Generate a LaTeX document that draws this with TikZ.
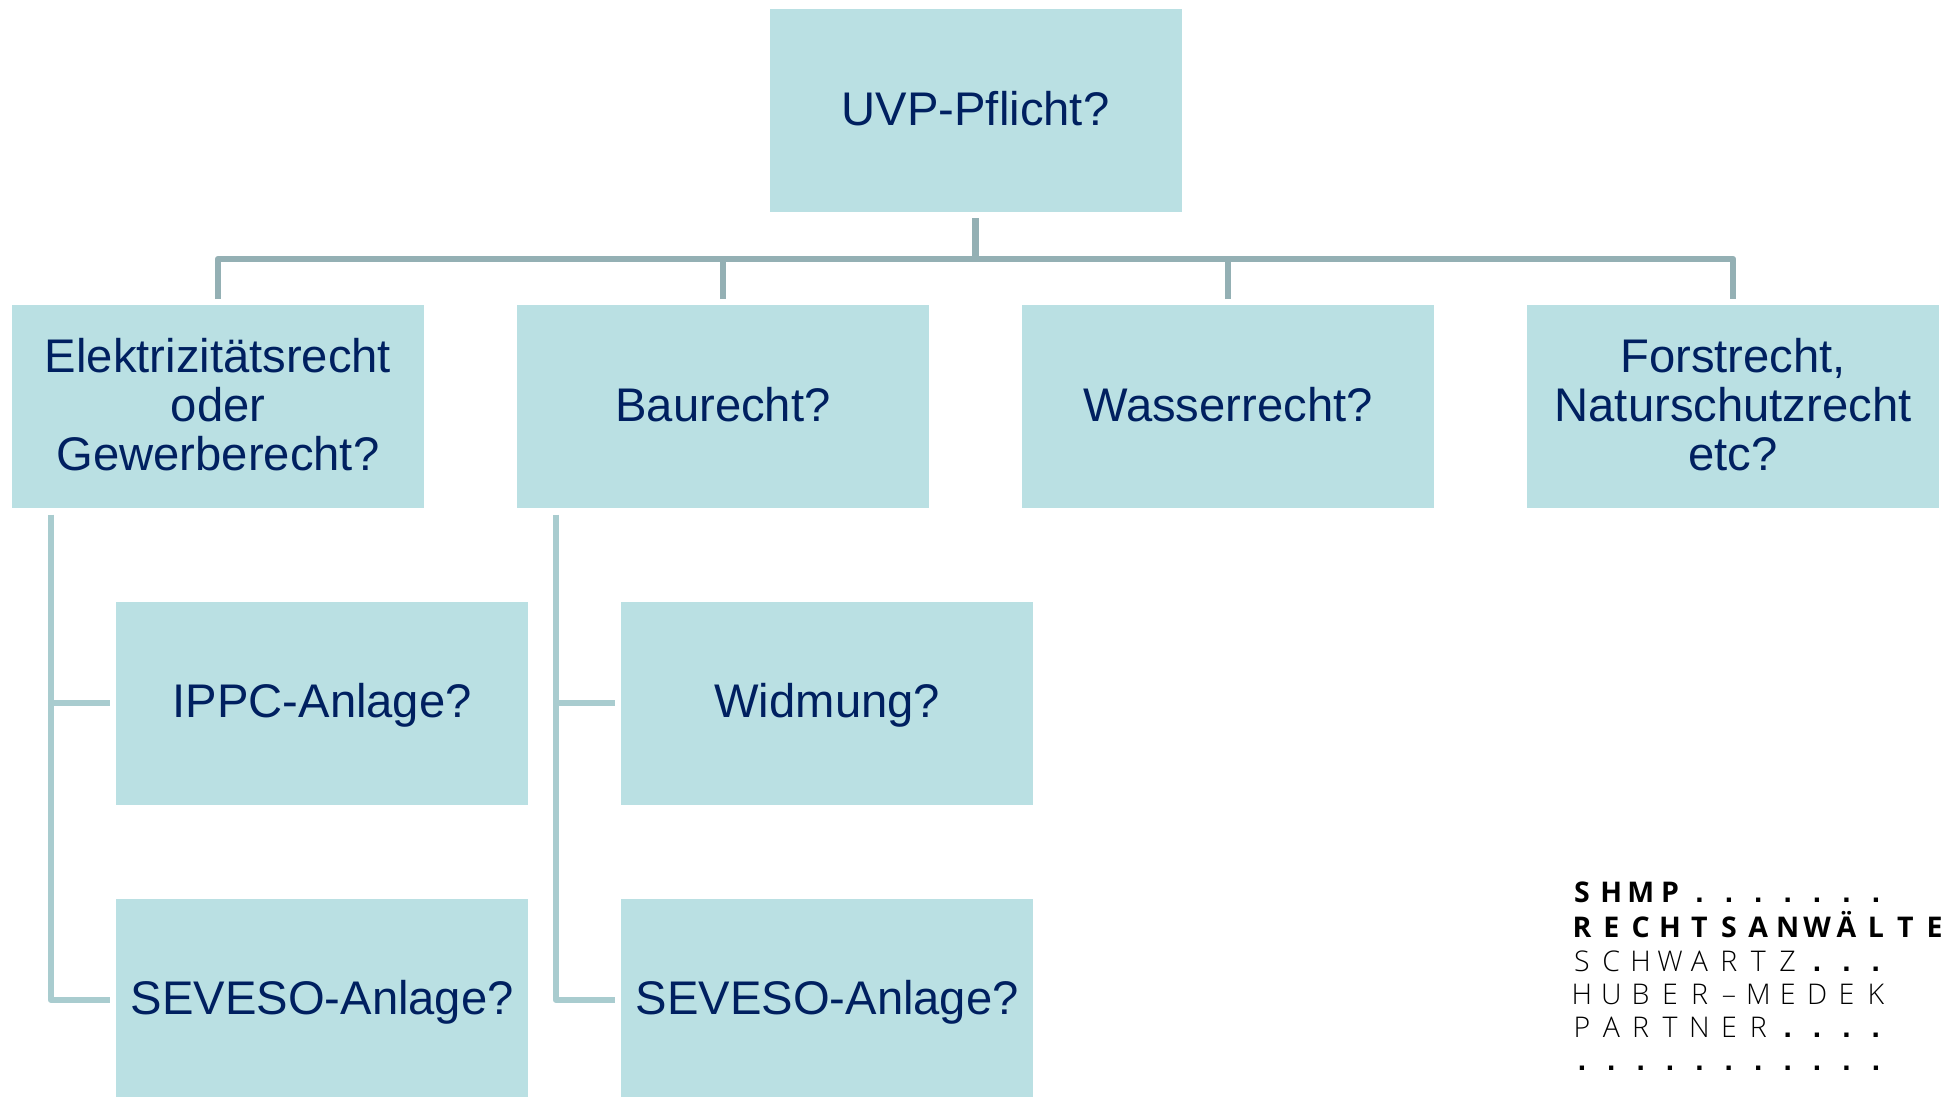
\documentclass[tikz,border=0pt]{standalone}
\usepackage{fontspec}
\setmainfont{Liberation Sans}
\newfontfamily\logolight{Open Sans Light}
\newfontfamily\logobold{Open Sans}[BoldFont={Open Sans Bold}]
\definecolor{boxfill}{HTML}{BAE0E3}
\definecolor{textblue}{HTML}{002060}
\definecolor{busline}{HTML}{94B0B4}
\definecolor{sideline}{HTML}{A9CCCF}
\newcommand{\gridcell}[1]{\makebox[29.4pt][c]{#1}}
\def\gridloop#1{\ifx#1\relax\else\gridcell{#1}\expandafter\gridloop\fi}
\newcommand{\gridline}[1]{\gridloop#1\relax}
\newcommand{\gridbold}[1]{{\logobold\bfseries\gridloop#1\relax}}
\newcommand{\griddots}[1]{{\rmfamily\bfseries\fontsize{30}{30}\selectfont\gridloop#1\relax}}
\tikzset{
  qbox/.style={fill=boxfill,draw=none,minimum width=412pt,minimum height=203pt,inner sep=0pt,
    text=textblue,align=center,text depth=5pt,font=\fontsize{47.2}{49}\selectfont},
  busconn/.style={draw=busline,line width=6.5pt,line join=round},
  sideconn/.style={draw=sideline,line width=6pt,line join=round},
  logoline/.style={anchor=base west,inner sep=0pt,text=black,font=\logolight\fontsize{28.5}{28.5}\selectfont}
}
\begin{document}
\begin{tikzpicture}[x=1pt,y=-1pt]
\clip (0,0) rectangle (1944,1097);
\node[qbox] (root) at (975.5,110.5) {UVP-Pflicht?};
\node[qbox] (elek) at (218,406.8) {Elektrizitätsrecht\\oder\\Gewerberecht?};
\node[qbox] (bau) at (723,406.8) {Baurecht?};
\node[qbox] (wasser) at (1228,406.8) {Wasserrecht?};
\node[qbox] (forst) at (1733,406.8) {Forstrecht,\\Naturschutzrecht\\etc?};
\node[qbox] (ippc) at (322.2,703.2) {IPPC-Anlage?};
\node[qbox] (sevA) at (322.2,1000) {SEVESO-Anlage?};
\node[qbox] (widm) at (827.2,703.2) {Widmung?};
\node[qbox] (sevB) at (827.2,1000) {SEVESO-Anlage?};
\coordinate (bus) at (975.5,259);
% top bus
\draw[busconn] ([yshift=6pt]elek.north) |- (bus) -| ([yshift=6pt]forst.north);
\draw[busconn] ([yshift=-6pt]root.south) -- (bus);
\draw[busconn] ([yshift=6pt]bau.north) -- (bau.north |- bus);
\draw[busconn] ([yshift=6pt]wasser.north) -- (wasser.north |- bus);
% side branches
\coordinate (elekSide) at ([xshift=39pt,yshift=-6pt]elek.south west);
\coordinate (bauSide) at ([xshift=39pt,yshift=-6pt]bau.south west);
\draw[sideconn] (elekSide) |- ([xshift=-6pt]sevA.west);
\draw[sideconn] (elekSide |- ippc.west) -- ([xshift=-6pt]ippc.west);
\draw[sideconn] (bauSide) |- ([xshift=-6pt]sevB.west);
\draw[sideconn] (bauSide |- widm.west) -- ([xshift=-6pt]widm.west);
% logo
\node[logoline] (l1) at (1567,902.6) {\gridbold{SHMP}\griddots{.......}};
\node[logoline] (l2) at (1567,937) {\gridbold{RECHTSANWÄLTE}};
\node[logoline] (l3) at (1567,971) {\gridline{SCHWARTZ}\griddots{...}};
\node[logoline] (l4) at (1567,1004) {\gridline{HUBER–MEDEK}};
\node[logoline] (l5) at (1567,1037) {\gridline{PARTNER}\griddots{....}};
\node[logoline] (l6) at (1567,1070) {\griddots{...........}};
\end{tikzpicture}
\end{document}
